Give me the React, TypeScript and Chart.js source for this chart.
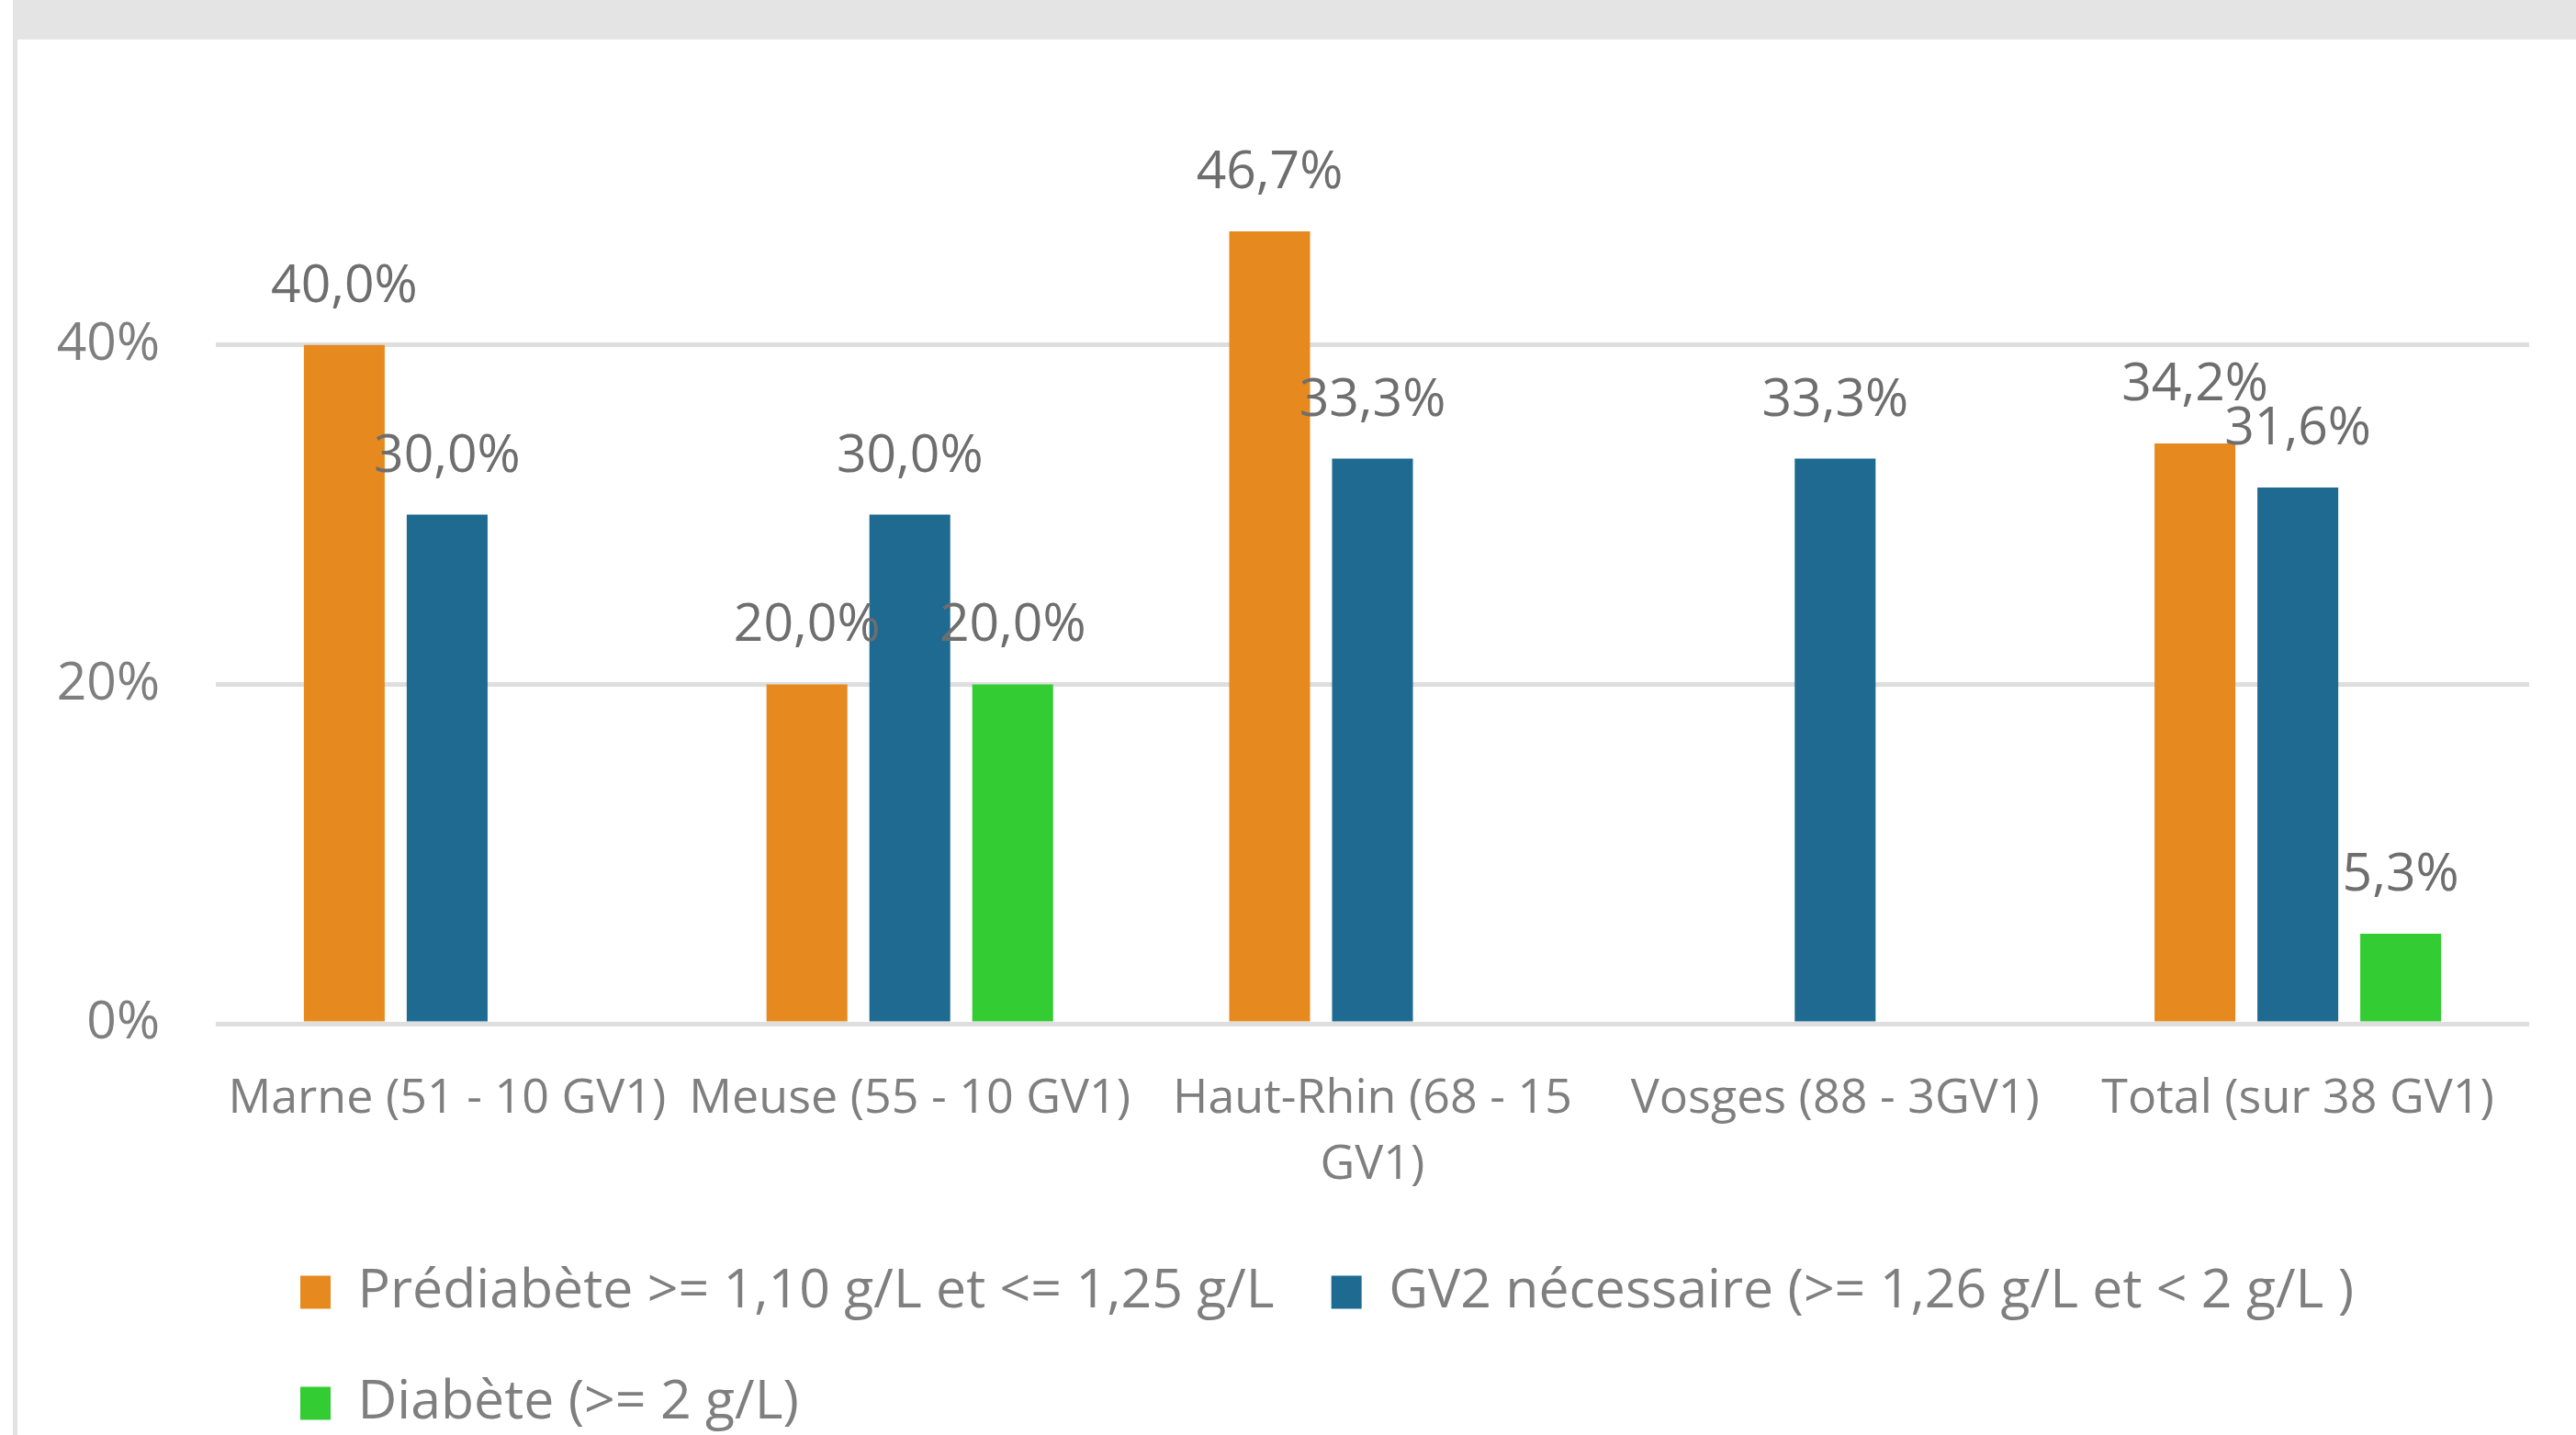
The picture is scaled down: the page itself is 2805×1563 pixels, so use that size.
import React, { useEffect, useRef } from 'react';
import { Chart, registerables } from 'chart.js';

Chart.register(...registerables);

const categories: (string | string[])[] = [
  'Marne (51 - 10 GV1)',
  'Meuse (55 - 10 GV1)',
  ['Haut-Rhin (68 - 15', 'GV1)'],
  'Vosges (88 - 3GV1)',
  'Total (sur 38 GV1)',
];
const seriesNames = [
  'Prédiabète >= 1,10 g/L et <= 1,25 g/L',
  'GV2 nécessaire (>= 1,26 g/L et < 2 g/L )',
  'Diabète (>= 2 g/L)',
];
const prediabete = [40.0, 20.0, 46.7, null, 34.2];
const gv2Necessaire = [30.0, 30.0, 33.3, 33.3, 31.6];
const diabete = [null, 20.0, null, null, 5.3];
const yTickValues = [0, 20, 40];
const seriesColors = ['#E68A20', '#1E6A91', '#33CC33'];

const FONT = "'Open Sans', 'Noto Sans', sans-serif";
const FONT_SIZE = 57;
const XLABEL_SIZE = 52;
const LEGEND_SIZE = 59;
const CANVAS_W = 2786;
const CANVAS_H = 1525;

const fmt = (v: number) => v.toFixed(1).replace('.', ',') + '%';

const dataLabels = {
  id: 'dataLabels',
  afterDatasetsDraw(chart: any) {
    const ctx = chart.ctx;
    ctx.save();
    ctx.font = `${FONT_SIZE}px ${FONT}`;
    ctx.fillStyle = '#6e6e6e';
    ctx.textAlign = 'center';
    ctx.textBaseline = 'alphabetic';
    chart.data.datasets.forEach((ds: any, i: number) => {
      const meta = chart.getDatasetMeta(i);
      meta.data.forEach((el: any, j: number) => {
        const v = ds.data[j];
        if (v === null || v === undefined) return;
        ctx.fillText(fmt(v), el.x, el.y - 47);
      });
    });
    ctx.restore();
  },
};

const legendShift = {
  id: 'legendShift',
  beforeDraw(chart: any) {
    if (chart.legend) {
      chart.legend.left = chart.chartArea.left + 30;
    }
  },
};

export default function App() {
  const canvasRef = useRef<HTMLCanvasElement | null>(null);

  useEffect(() => {
    if (!canvasRef.current) return;
    const chart = new Chart(canvasRef.current, {
      type: 'bar',
      data: {
        labels: categories as any,
        datasets: [
          { label: seriesNames[0], data: prediabete as any, backgroundColor: seriesColors[0], borderWidth: 0 },
          { label: seriesNames[1], data: gv2Necessaire as any, backgroundColor: seriesColors[1], borderWidth: 0 },
          { label: seriesNames[2], data: diabete as any, backgroundColor: seriesColors[2], borderWidth: 0 },
        ],
      },
      options: {
        responsive: false,
        animation: false,
        devicePixelRatio: 1,
        layout: { padding: { top: 148, right: 51, bottom: 0, left: 0 } },
        datasets: {
          bar: { categoryPercentage: 0.667, barPercentage: 0.786 },
        },
        scales: {
          x: {
            grid: { display: false },
            border: { display: false },
            ticks: {
              color: '#7f7f7f',
              font: { family: FONT, size: XLABEL_SIZE, lineHeight: 72 / XLABEL_SIZE },
              padding: 38,
              maxRotation: 0,
              minRotation: 0,
              autoSkip: false,
            },
            afterFit(scale: any) {
              scale.height = 201;
            },
          },
          y: {
            min: 0,
            max: 50,
            grid: { color: '#dedede', lineWidth: 5, drawTicks: false },
            border: { display: false },
            ticks: {
              color: '#7f7f7f',
              font: { family: FONT, size: FONT_SIZE },
              padding: 61,
              callback: (v: any) => v + '%',
            },
            afterBuildTicks(scale: any) {
              scale.ticks = yTickValues.map((value) => ({ value }));
            },
            afterFit(scale: any) {
              scale.width = 216;
            },
          },
        },
        plugins: {
          legend: {
            position: 'bottom',
            align: 'start',
            fullSize: false,
            labels: {
              boxWidth: 33,
              boxHeight: 36,
              padding: 62,
              color: '#7f7f7f',
              font: { family: FONT, size: LEGEND_SIZE },
            },
          },
          tooltip: { enabled: false },
        },
      } as any,
      plugins: [dataLabels, legendShift],
    });
    return () => chart.destroy();
  }, []);

  return (
    <div
      style={{
        position: 'fixed',
        left: 0,
        top: 0,
        width: 2805,
        height: 1563,
        background: '#ffffff',
        overflow: 'hidden',
      }}
    >
      <div style={{ position: 'absolute', left: 14, top: 0, width: 2805 - 14, height: 43, background: '#e4e4e4' }} />
      <div style={{ position: 'absolute', left: 14, top: 43, width: 5, height: 1563 - 43, background: '#e2e2e2' }} />
      <canvas
        ref={canvasRef}
        width={CANVAS_W}
        height={CANVAS_H}
        style={{ position: 'absolute', left: 19, top: 43, width: CANVAS_W, height: CANVAS_H }}
      />
    </div>
  );
}
